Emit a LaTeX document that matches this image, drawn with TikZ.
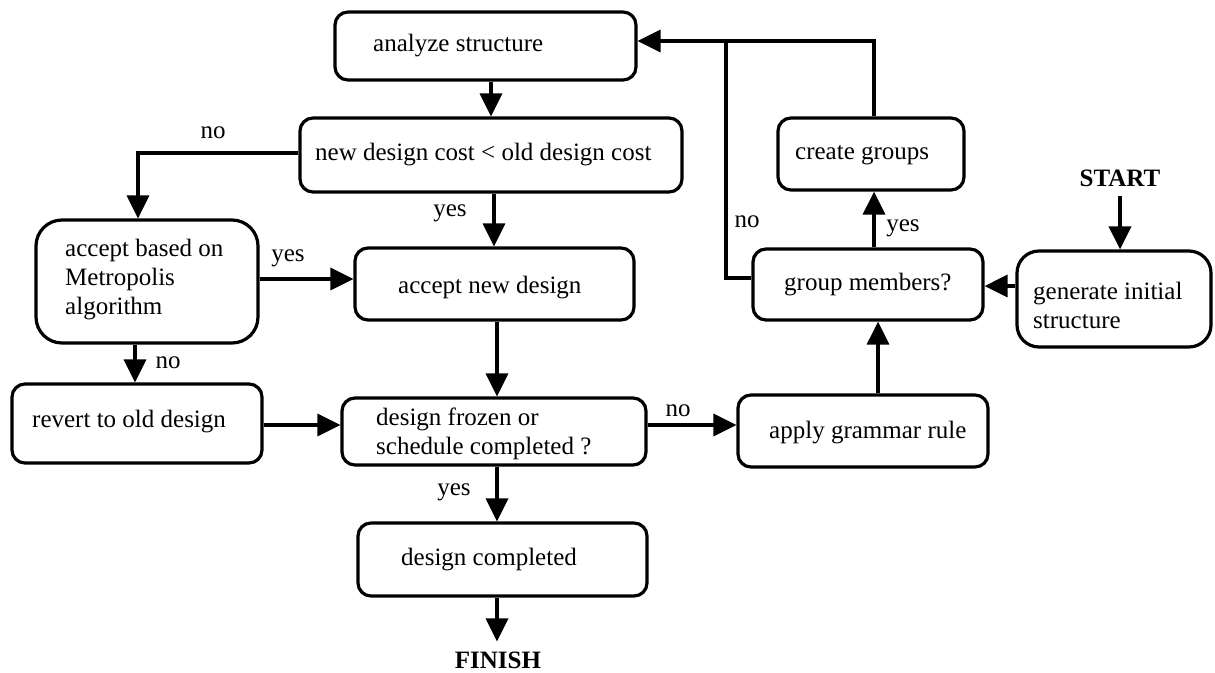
\documentclass[tikz,border=0pt]{standalone}
\usepackage{fontspec}
\setmainfont{Liberation Serif}
\usetikzlibrary{arrows.meta}

\begin{document}
\begin{tikzpicture}[x=1pt,y=-1pt,
  box/.style={draw, line width=3.2pt, rounded corners=13pt, inner sep=0pt},
  txt/.style={anchor=west, inner sep=0pt, align=left, font=\fontsize{25}{29}\selectfont},
  lbl/.style={inner sep=0pt, font=\fontsize{25}{29}\selectfont},
  ttl/.style={inner sep=0pt, font=\fontsize{25}{29}\selectfont\bfseries},
  flow/.style={line width=3.2pt, -{Triangle[length=23pt,width=22pt]}},
  wire/.style={line width=3.2pt}]
\useasboundingbox (0,0) rectangle (1215,672);

% process boxes
\node[box, minimum width=301pt, minimum height=68pt] (ana) at (485.5,46) {};
\node[box, minimum width=382pt, minimum height=74pt] (cost) at (491,155) {};
\node[box, rounded corners=26pt, minimum width=222pt, minimum height=123pt] (metro) at (147,281.5) {};
\node[box, minimum width=279pt, minimum height=72pt] (accnew) at (494.5,284) {};
\node[box, minimum width=250pt, minimum height=79pt] (revert) at (137,423.5) {};
\node[box, minimum width=304pt, minimum height=67pt] (frozen) at (494,431.5) {};
\node[box, minimum width=289pt, minimum height=73pt] (done) at (502.5,559.5) {};
\node[box, minimum width=186pt, minimum height=72pt] (create) at (871,154) {};
\node[box, minimum width=230pt, minimum height=71pt] (members) at (868,284.5) {};
\node[box, rounded corners=22pt, minimum width=194pt, minimum height=96pt] (gen) at (1114,299) {};
\node[box, minimum width=250pt, minimum height=72pt] (grammar) at (863,431) {};

% box texts
\node[txt] (tana) at (373,46) {analyze structure};
\node[txt] (tcost) at (315,155) {new design cost < old design cost};
\node[txt] (tmetro) at (65,280) {accept based on\\Metropolis\\algorithm};
\node[txt] (taccnew) at (398,288) {accept new design};
\node[txt] (trevert) at (32,422) {revert to old design};
\node[txt] (tfrozen) at (376,434) {design frozen or\\schedule completed ?};
\node[txt] (tdone) at (401,560) {design completed};
\node[txt] (tcreate) at (795,155) {create groups};
\node[txt] (tmembers) at (784,285) {group members?};
\node[txt] (tgen) at (1033,305) {generate initial\\structure};
\node[txt] (tgrammar) at (769,433) {apply grammar rule};

% terminals
\node[ttl] (start) at (1120,178) {START};
\node[ttl] (finish) at (498,660) {FINISH};

% branch labels
\node[lbl] (l1) at (213,133) {no};
\node[lbl] (l2) at (450,213) {yes};
\node[lbl] (l3) at (288,258) {yes};
\node[lbl] (l4) at (168,363) {no};
\node[lbl] (l5) at (454,492) {yes};
\node[lbl] (l6) at (678,411) {no};
\node[lbl] (l7) at (903,228) {yes};
\node[lbl] (l8) at (747,222) {no};

% guide coordinates for connector positions
\coordinate (vA) at (491,0);
\coordinate (vB) at (494,0);
\coordinate (vC) at (497,0);
\coordinate (vD) at (138,0);
\coordinate (vE) at (135,0);
\coordinate (vF) at (878,0);
\coordinate (vG) at (874,0);
\coordinate (hA) at (0,153);
\coordinate (hB) at (0,279);
\coordinate (hC) at (0,425);
\coordinate (hD) at (0,41);
\coordinate (hE) at (0,278);
\coordinate (hF) at (0,286);
\coordinate (join) at (726,41);

% main column
\draw[flow] (ana.south -| vA) -- (cost.north -| vA);
\draw[flow] (cost.south -| vB) -- (accnew.north -| vB);
\draw[flow] (accnew.south -| vC) -- (frozen.north -| vC);
\draw[flow] (frozen.south -| vC) -- (done.north -| vC);
\draw[flow, shorten >=10pt] (done.south -| vC) -- (finish.north -| vC);

% rejection branch
\draw[flow] (cost.west |- hA) -| (metro.north -| vD);
\draw[flow] (metro.east |- hB) -- (accnew.west |- hB);
\draw[flow] (metro.south -| vE) -- (revert.north -| vE);
\draw[flow] (revert.east |- hC) -- (frozen.west |- hC);

% grammar loop
\draw[flow] (frozen.east |- hC) -- (grammar.west |- hC);
\draw[flow] (grammar.north -| vF) -- (members.south -| vF);
\draw[flow] (members.north -| vG) -- (create.south -| vG);
\draw[flow] (create.north -| vG) |- (ana.east |- hD);
\draw[wire] (members.west |- hE) -| (join);

% entry
\draw[flow, shorten <=9pt] (start.south) -- (gen.north -| start.south);
\draw[flow] (gen.west |- hF) -- (members.east |- hF);
\end{tikzpicture}
\end{document}
